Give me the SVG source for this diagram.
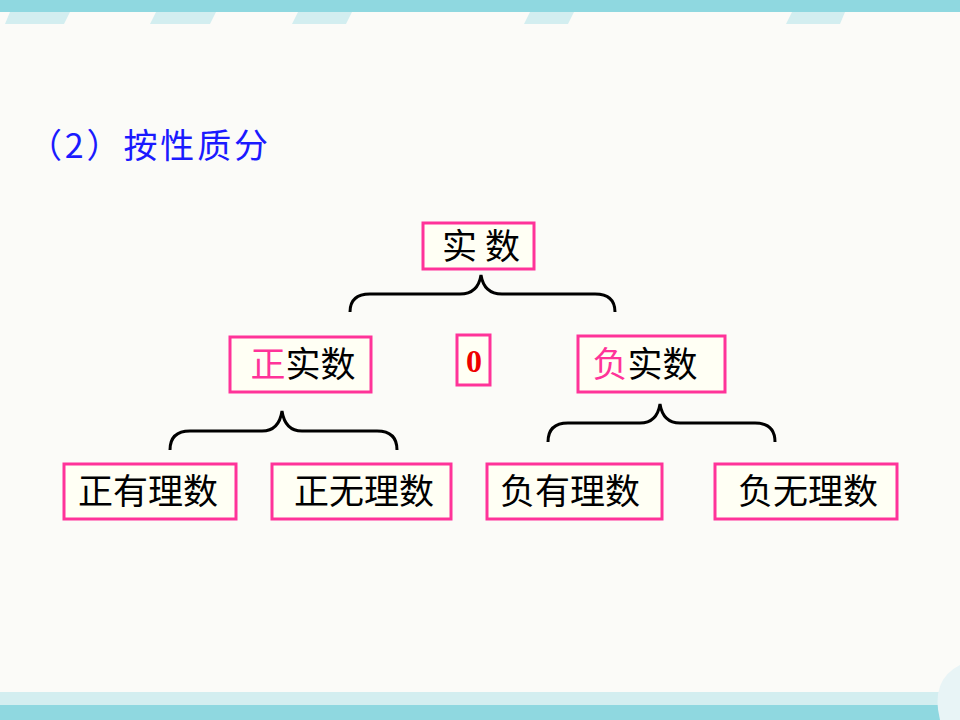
<svg xmlns="http://www.w3.org/2000/svg" width="960" height="720" viewBox="0 0 960 720">
<style>
.box{fill:#fffff4;stroke:#ff3399;stroke-width:3}
.t{font-family:"Noto Sans CJK SC",sans-serif;font-size:35px;fill:#000;text-anchor:middle}
.p{fill:#ff3399}
.br{fill:none;stroke:#000;stroke-width:3}
</style>
<rect width="960" height="720" fill="#fbfbf8"/>
<rect x="0" y="0" width="960" height="12" fill="#8fd8e0"/>
<g fill="#d3eef0"><polygon points="5,24 10,12 70,12 64,24"/><polygon points="150,24 156,12 216,12 210,24"/><polygon points="292,24 298,12 352,12 346,24"/><polygon points="524,24 530,12 574,12 568,24"/><polygon points="786,24 792,12 845,12 840,24"/></g>
<rect x="0" y="692" width="960" height="13" fill="#d3eef0"/>
<rect x="0" y="705" width="960" height="15" fill="#8fd8e0"/>
<path d="M940,720 Q930,680 960,665 L960,720Z" fill="#e8f4f6"/>
<text x="28" y="158" font-family="Noto Sans CJK SC,sans-serif" font-size="34" fill="#1a1aff" textLength="240" lengthAdjust="spacing">（2）按性质分</text>
<g id="connectors">
<path class="br" d="M350,312 Q350,294 370,294 L460,294 Q478,294 481,275 Q484,294 502,294 L595,294 Q615,294 615,312"/>
<path class="br" d="M170,450 Q170,431 190,431 L262,431 Q279,431 282,411 Q285,431 302,431 L377,431 Q397,431 397,450"/>
<path class="br" d="M548,442 Q548,423 568,423 L640,423 Q657,423 660,404 Q663,423 680,423 L755,423 Q775,423 775,442"/>
</g>
<g id="n-root"><rect class="box" x="423" y="223" width="111" height="46"/><text class="t" x="481" y="259">实 数</text></g>
<g id="n-pos"><rect class="box" x="230" y="337" width="141" height="55"/><text class="t" x="303" y="377"><tspan class="p">正</tspan>实数</text></g>
<g id="n-zero"><rect class="box" x="457" y="335" width="33" height="50"/><text x="474" y="372" font-family="Liberation Serif,serif" font-weight="bold" font-size="32" fill="#ee0000" text-anchor="middle">0</text></g>
<g id="n-neg"><rect class="box" x="578" y="336" width="147" height="56"/><text class="t" x="645" y="377"><tspan class="p">负</tspan>实数</text></g>
<g id="n-pr"><rect class="box" x="64" y="464" width="172" height="55"/><text class="t" x="148" y="504">正有理数</text></g>
<g id="n-pi"><rect class="box" x="272" y="464" width="179" height="55"/><text class="t" x="364" y="504">正无理数</text></g>
<g id="n-nr"><rect class="box" x="487" y="464" width="175" height="55"/><text class="t" x="570" y="504">负有理数</text></g>
<g id="n-ni"><rect class="box" x="715" y="464" width="182" height="55"/><text class="t" x="808" y="504">负无理数</text></g>
</svg>
